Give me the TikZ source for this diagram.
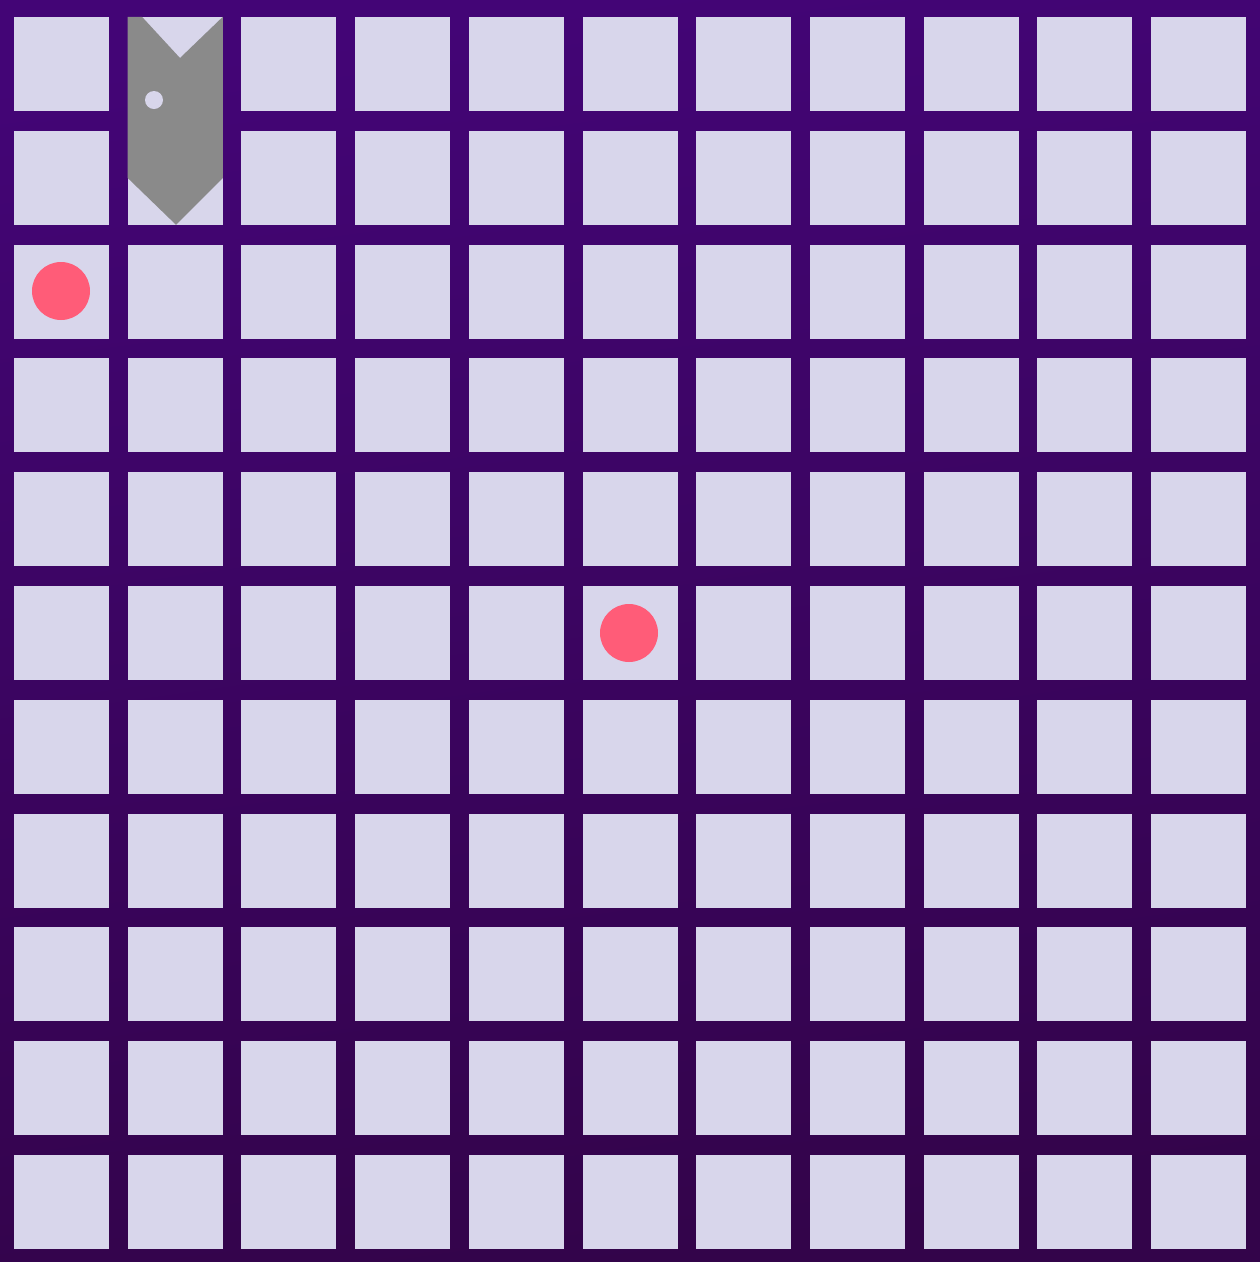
\documentclass[tikz,border=0pt]{standalone}
\usetikzlibrary{shadings}
\definecolor{bgtop}{HTML}{430576}
\definecolor{bgbot}{HTML}{33044A}
\definecolor{cell}{HTML}{D8D6EB}
\definecolor{food}{HTML}{FF5C78}
\definecolor{snake}{HTML}{8A8A8A}
\tikzset{cellbox/.style={fill=cell}, foodball/.style={fill=food}, snakebody/.style={fill=snake}}
\begin{document}
\begin{tikzpicture}[x=0.02cm,y=-0.02cm]
\useasboundingbox (0,0) rectangle (1260,1262);
\shade[top color=bgtop, bottom color=bgbot, shading angle=8] (0,0) rectangle (1260,1262);
\foreach \i in {0,...,10}{
  \foreach \j in {0,...,10}{
    \fill[cellbox] ({14+113.7*\i},{17+113.8*\j}) rectangle ++(95,94);
  }
}
% snake
\fill[snakebody] (127.7,16.8) -- (142,16.8) -- (180,58) -- (222.8,16.8) -- (222.8,178) -- (176,224.8) -- (127.7,178) -- cycle;
\fill[cellbox] (154,100) circle (9);
% food
\fill[foodball] (61,291) circle (29);
\fill[foodball] (629,633) circle (29);
\end{tikzpicture}
\end{document}
